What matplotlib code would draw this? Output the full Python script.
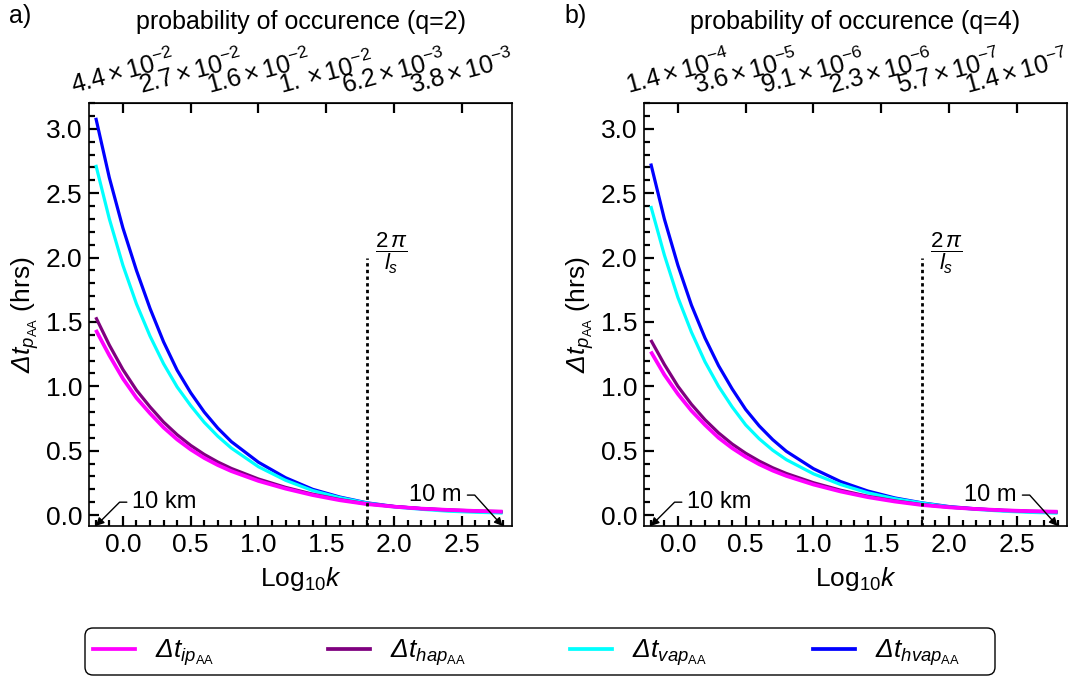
import matplotlib
matplotlib.use('Agg')
import matplotlib.pyplot as plt
from matplotlib.ticker import MultipleLocator, FormatStrFormatter
from matplotlib.lines import Line2D
from matplotlib.patches import FancyBboxPatch

plt.rcParams['font.family'] = ['Liberation Sans', 'DejaVu Sans']
plt.rcParams['mathtext.fontset'] = 'custom'
plt.rcParams['mathtext.rm'] = 'Liberation Sans'
plt.rcParams['mathtext.it'] = 'Liberation Sans:italic'
plt.rcParams['mathtext.bf'] = 'Liberation Sans:bold'

# ---------------- data ----------------
log_k = [-0.2, -0.1, 0.0, 0.1, 0.2, 0.3, 0.4, 0.5, 0.6, 0.7, 0.8,
         1.0, 1.2, 1.4, 1.6, 1.8, 2.0, 2.2, 2.4, 2.6, 2.8]

# q = 2 (panel a)
ip_q2 = [1.438, 1.24, 1.06, 0.91, 0.79, 0.68, 0.587, 0.509, 0.443, 0.388, 0.341,
         0.265, 0.205, 0.155, 0.115, 0.085, 0.065, 0.05, 0.04, 0.032, 0.027]
hap_q2 = [1.536, 1.32, 1.13, 0.97, 0.84, 0.722, 0.624, 0.541, 0.471, 0.412, 0.362,
          0.28, 0.215, 0.162, 0.12, 0.087, 0.066, 0.05, 0.04, 0.032, 0.026]
vap_q2 = [2.72, 2.30, 1.94, 1.64, 1.39, 1.175, 0.995, 0.85, 0.72, 0.612, 0.52,
          0.375, 0.27, 0.19, 0.135, 0.093, 0.063, 0.045, 0.030, 0.022, 0.016]
hvap_q2 = [3.085, 2.62, 2.23, 1.90, 1.605, 1.345, 1.125, 0.95, 0.80, 0.675, 0.57,
           0.41, 0.29, 0.20, 0.14, 0.095, 0.067, 0.050, 0.037, 0.028, 0.021]

# q = 4 (panel b)
ip_q4 = [1.27, 1.09, 0.94, 0.81, 0.70, 0.60, 0.52, 0.452, 0.394, 0.345, 0.304,
         0.237, 0.183, 0.139, 0.105, 0.078, 0.06, 0.047, 0.037, 0.03, 0.026]
hap_q4 = [1.36, 1.17, 1.00, 0.86, 0.74, 0.638, 0.552, 0.48, 0.419, 0.367, 0.323,
          0.251, 0.193, 0.146, 0.11, 0.081, 0.061, 0.047, 0.037, 0.03, 0.025]
vap_q4 = [2.40, 2.02, 1.69, 1.42, 1.19, 1.00, 0.84, 0.70, 0.592, 0.503, 0.43,
          0.32, 0.237, 0.173, 0.127, 0.093, 0.063, 0.044, 0.030, 0.021, 0.015]
hvap_q4 = [2.73, 2.30, 1.94, 1.63, 1.375, 1.16, 0.98, 0.82, 0.692, 0.585, 0.495,
           0.36, 0.26, 0.187, 0.133, 0.095, 0.066, 0.048, 0.035, 0.026, 0.02]

top_ticks = [0.0, 0.5, 1.0, 1.5, 2.0, 2.5]
top_labels_q2 = [r'$4.4\times10^{-2}$', r'$2.7\times10^{-2}$', r'$1.6\times10^{-2}$',
                 r'$1.\times10^{-2}$', r'$6.2\times10^{-3}$', r'$3.8\times10^{-3}$']
top_labels_q4 = [r'$1.4\times10^{-4}$', r'$3.6\times10^{-5}$', r'$9.1\times10^{-6}$',
                 r'$2.3\times10^{-6}$', r'$5.7\times10^{-7}$', r'$1.4\times10^{-7}$']

series_labels = [r'Δt$_{ip_{\mathrm{AA}}}$',
                 r'Δt$_{hap_{\mathrm{AA}}}$',
                 r'Δt$_{vap_{\mathrm{AA}}}$',
                 r'Δt$_{hvap_{\mathrm{AA}}}$']
series_colors = ['#FF00FF', '#7F007F', '#00FFFF', '#0000FF']

ls_pos = 1.8        # log10(2*pi/l_s)
ls_top = 2.0
k_10km = -0.2
k_10m = 2.8

XLIM = (-0.25, 2.87)
YLIM = (-0.085, 3.2)

W, H = 1079, 680
fig = plt.figure(figsize=(W / 100, H / 100), dpi=100)

axes_px = [(89, 103, 423, 423), (644, 103, 423, 423)]
panels = [
    (ip_q2, hap_q2, vap_q2, hvap_q2, top_labels_q2, 'probability of occurence (q=2)', 'a)'),
    (ip_q4, hap_q4, vap_q4, hvap_q4, top_labels_q4, 'probability of occurence (q=4)', 'b)'),
]

TICK_FS = 19

for (x0, y0, w, h), (ip, hap, vap, hvap, tlabels, title, plabel) in zip(axes_px, panels):
    ax = fig.add_axes([x0 / W, 1 - (y0 + h) / H, w / W, h / H])
    ax.plot(log_k, hvap, color=series_colors[3], lw=2.3, solid_capstyle='butt')
    ax.plot(log_k, vap, color=series_colors[2], lw=2.3, solid_capstyle='butt')
    ax.plot(log_k, hap, color=series_colors[1], lw=2.3, solid_capstyle='butt')
    ax.plot(log_k, ip, color=series_colors[0], lw=2.7, solid_capstyle='butt')

    ax.set_xlim(*XLIM)
    ax.set_ylim(*YLIM)

    ax.vlines(ls_pos, YLIM[0], ls_top, colors='black', linestyles=(0, (1.2, 1.2)), lw=2.0)
    ax.text(ls_pos + 0.06, ls_top + 0.03, r'$\dfrac{2\,\pi}{l_s}$', fontsize=16,
            ha='left', va='center')

    ax.annotate('10 km', xy=(k_10km, YLIM[0]), xytext=(0.07, 0.10),
                fontsize=17, ha='left', va='center',
                arrowprops=dict(arrowstyle='-|>', color='black', lw=1.0,
                                mutation_scale=12, shrinkA=2, shrinkB=0,
                                connectionstyle='angle,angleA=0,angleB=45,rad=0'))
    ax.annotate('10 m', xy=(k_10m, YLIM[0]), xytext=(2.5, 0.155),
                fontsize=17, ha='right', va='center',
                arrowprops=dict(arrowstyle='-|>', color='black', lw=1.0,
                                mutation_scale=12, shrinkA=2, shrinkB=0,
                                connectionstyle='angle,angleA=0,angleB=-48,rad=0'))

    ax.xaxis.set_major_locator(MultipleLocator(0.5))
    ax.xaxis.set_minor_locator(MultipleLocator(0.1))
    ax.yaxis.set_major_locator(MultipleLocator(0.5))
    ax.yaxis.set_minor_locator(MultipleLocator(0.1))
    ax.xaxis.set_major_formatter(FormatStrFormatter('%.1f'))
    ax.yaxis.set_major_formatter(FormatStrFormatter('%.1f'))
    ax.tick_params(which='both', direction='in', top=False, right=False, width=1.6,
                   labelsize=TICK_FS, pad=5)
    ax.tick_params(which='major', length=7)
    ax.tick_params(which='minor', length=4)
    for s in ax.spines.values():
        s.set_linewidth(1.2)

    ax.set_xlabel(r'Log$_{10}$$\mathit{k}$', fontsize=19, labelpad=6)
    ax.set_ylabel(r'Δt$_{p_{\mathrm{AA}}}\ \mathrm{(hrs)}$', fontsize=19, labelpad=3,
                  fontstyle='italic')

    sec = ax.secondary_xaxis('top')
    sec.set_xticks(top_ticks, tlabels)
    sec.tick_params(direction='in', length=7, width=1.6, labelsize=18,
                    labelrotation=15, pad=3)
    sec.set_xlabel(title, fontsize=18, labelpad=12)

    fig.text((x0 - 80) / W, 1 - 16 / H, plabel, fontsize=18, ha='left', va='center')

# legend frame (rounded box) and four equally spaced entries
fig.add_artist(FancyBboxPatch((85, 680 - 675), 910, 47,
                              boxstyle='round,pad=0,rounding_size=8',
                              transform=None, facecolor='white',
                              edgecolor='black', lw=1.0))
LEG_FS = 19
entry_px = [93, 328, 570, 813]
for xp, c, lab in zip(entry_px, series_colors, series_labels):
    fig.legend([Line2D([], [], color=c, lw=2.7)], [lab], loc='center left',
               bbox_to_anchor=(xp / W, (680 - 653) / H), frameon=False,
               prop={'size': LEG_FS, 'style': 'italic'},
               handlelength=1.6, handletextpad=0.75, borderpad=0.0,
               borderaxespad=0.0)

fig.savefig('out.png', dpi=100)
